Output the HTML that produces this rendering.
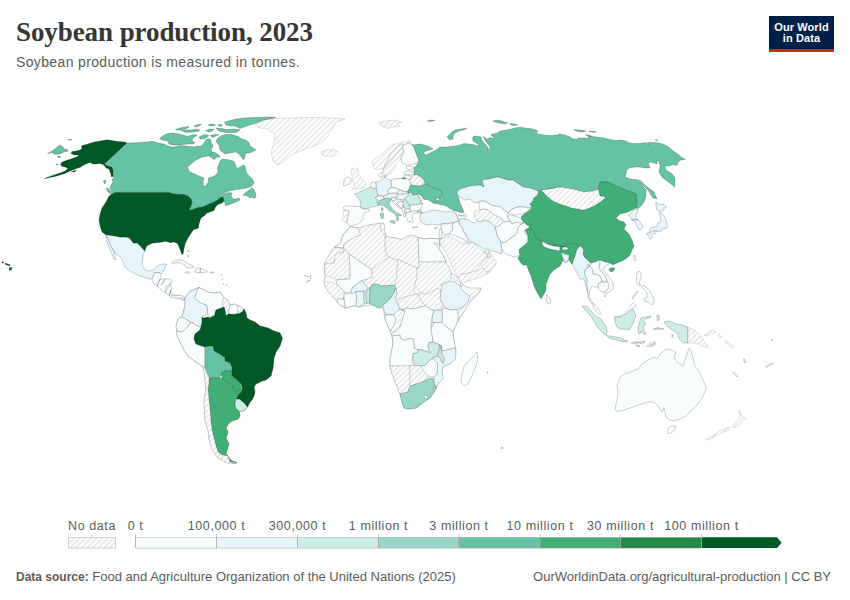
<!DOCTYPE html>
<html><head><meta charset="utf-8">
<style>
*{margin:0;padding:0;box-sizing:border-box}
html,body{width:850px;height:600px;background:#fff;overflow:hidden}
body{position:relative;font-family:"Liberation Sans",sans-serif;color:#5b5b5b}
.title{position:absolute;left:16px;top:17px;font-family:"Liberation Serif",serif;font-weight:bold;font-size:27px;color:#363636;white-space:nowrap;letter-spacing:-0.08px}
.sub{position:absolute;left:16px;top:53.5px;font-size:14px;letter-spacing:0.36px;color:#5b5b5b;white-space:nowrap}
.logo{position:absolute;left:769px;top:16px;width:65px;height:36px;background:#002147;border-bottom:3px solid #ce261e;color:#fff;font-weight:bold;font-size:11px;line-height:11.8px;text-align:center;padding-top:5.5px;letter-spacing:0.1px}
.foot{position:absolute;top:569px;font-size:13px;color:#5b5b5b;white-space:nowrap}
.foot b{color:#5b5b5b;font-size:12px}
svg{position:absolute;left:0;top:0}
.lg{font-size:12.5px;fill:#5b5b5b;letter-spacing:0.6px}
</style></head><body>
<div class="title">Soybean production, 2023</div>
<div class="sub">Soybean production is measured in tonnes.</div>
<div class="logo">Our World<br>in Data</div>
<svg width="850" height="600" viewBox="0 0 850 600"><defs><pattern id="hatch" patternUnits="userSpaceOnUse" width="4" height="4" patternTransform="rotate(45)"><rect width="4" height="4" fill="#fff"/><rect width="1.8" height="4" fill="#e9e9e9"/></pattern></defs><g stroke="#000" stroke-opacity="0.27" stroke-width="0.7" stroke-linejoin="round"><path fill="#005824" d="M82 145.5L88 144L94 142L100 141L107 139.8L112 140.5L118 141.5L125 142L127 143L104.5 164L108 166L112 167L113 170L113 175L114 176L111.5 177L110.5 173L109 169L106 168L104 165L100 163.5L96 164L93 164L90 162.5L86 164L82 166L81 167L78 168L74 169.5L70 171L65 173.5L60 175L55 176.5L50 177.5L44.5 178.7L46 177.8L54 175L60 173L65 171L68 168.5L65 167L62 166.5L60.5 164.5L62 162L66 160.5L71 159L75 157.5L78 156L79 155L74 155L71 153.5L72 151.5L76 151L80 150L82 148.5L81.5 146Z"/><path fill="#005824" d="M71 172L76 170L75 172Z"/><path fill="#005824" d="M56 164L58 164.2L57 165Z"/><path fill="#66c2a4" d="M47.5 153.5L52 151L56 148L60 145L63 147L64 149L67.5 149.5L68 151L64 152L62 153L60 154L55 154.5L52 152.5Z"/><path fill="#66c2a4" d="M68 139.5L72 139.2L70 140.5Z"/><path fill="#005824" d="M57 156.5L61 156.8L59 157.5Z"/><path fill="#66c2a4" d="M127 143L134 142.8L140 142.5L146 142L150 141.5L153 141.5L158 143L164 144L168 146L172 147L177 146.5L180 145.5L185 146L190 146.5L194 147L198 146L200 146.5L203 145L204.5 142L206 139.5L209 138.5L211 140L211 143L213 145L212.5 147.5L211 149.5L213 153L208 156L202 157L196 160L191 164L187.5 167L188.5 170L190 172L195 174L200 176.5L204 178L203 181L203.5 185L205 186.5L207 184L208.5 182L208 180L209 177.5L212 177L216 175L218 172L217.5 168L219 164L220 161L222 159L226 159.5L230 160L234 161.5L235.5 165L237 168.5L240 167L243 165L245 166L246 172L249 176L252 179L254 182L253 185L250 187L246 188L240 189L234 190L229 191L225 193L220 196L218 198L221 196.2L225 194L229 192.5L232 193L231 196L233 199L236 199L239 198L240 200L236 202L232 203.5L228 205L225.5 206L225 203L224 201L223 197L221 197.5L219 199L216 201L212 203L208 204.5L203 207L198 207.5L193 209.5L188.5 210.5L191 206L192 202L191 199L188 196L184 194.5L180 194.5L174 194L168 192.4L115 192.4L114 193L112 191L110 188L111 185L113 182L112 180L113.5 178L114 176L113 175L113 170L112 167L108 166L104.5 164Z"/><path fill="#66c2a4" d="M243 195.5L245 193L248 191L250 189.5L252 187.5L254 190L255.5 193L256 197L254 198.5L252 197L250 198L248 196.5L246 195.5Z"/><path fill="#66c2a4" d="M106 188L109 189L113 193L112 195L108 192Z"/><path fill="#66c2a4" d="M104 180L106 181L105 184L103.5 182Z"/><path fill="#66c2a4" d="M159.5 138.5L164 135L168 133.5L173 133L179 134L188 136.5L190 135.5L195 134.5L197 135.5L193 138L192 141L195 142.5L193 144L188 144L183 144.5L178 145L173 145L169 144L168 141L162 140Z"/><path fill="#66c2a4" d="M175.5 129.5L180 128L185 127L189 126.5L188 128L185 129L181 130L177 130Z"/><path fill="#66c2a4" d="M181 130.5L186 130L192 130L196 129L200 130L198 131.5L192 132L186 132.5Z"/><path fill="#66c2a4" d="M194 126L198 124.5L201.5 124.5L199 126L196 127Z"/><path fill="#66c2a4" d="M205.5 130.5L210 129L214 129.5L212 131.5L208 132Z"/><path fill="#66c2a4" d="M208.5 124.5L213 124L215.5 125L212 126L209 125.5Z"/><path fill="#66c2a4" d="M218 124.5L222 124.5L221.5 126.5L219 126Z"/><path fill="#66c2a4" d="M216 128L222 128.5L226 129.5L235 129L240 130L236 132.5L226 132.5L220 131.5L218 130Z"/><path fill="#66c2a4" d="M199 137L202 135.5L206 134.5L209 135.5L206 138L203 139L200 139Z"/><path fill="#66c2a4" d="M210 135.5L215 134.5L219 134.5L216 136L212 137.5Z"/><path fill="#66c2a4" d="M216 141L218 138L222 135.5L226 134.5L232 134.5L238 136.5L242 139L246 140L249 143L250 146L253 148L256 150L252 152L249 153L246 153L245 156L244 160L242 158L239 154L236 152L230 153L225 154L221 151L219 148L220 147L218 144Z"/><path fill="#66c2a4" d="M209 156L214 152L219 155L220 157L215 157.5L211 157.5Z"/><path fill="#66c2a4" d="M212 158.5L216 158L214 159.5Z"/><path fill="#66c2a4" d="M224.5 122L230 120.5L236 119L244 118L252 117.6L262 117.2L270 117L276 117.5L268 119.5L262 121L256 123L250 125L244 127L240 128.5L235 126L230 126L226 125Z"/><path fill="url(#hatch)" stroke-opacity="0.17" d="M255 125L264 120L276 118.4L300 117.6L320 117.6L334 118L345 119L336 122L333 128L328 136L322 142L316 145L306 149L298 152L290 156L282 163L278 165L273 161L271 153L273 146L275 140L274 134L268 129L260 128Z"/><path fill="url(#hatch)" stroke-opacity="0.17" d="M321 152L326 150L334 149.6L339 152L336 155.6L328 156.4L322 155Z"/><path fill="#005824" d="M115 192.4L168 192.4L174 194L180 194.5L184 194.5L188 196L191 199L192 202L191 206L188.5 210.5L193 209.5L198 207.5L203 207L208 204.5L212 203L216 201L219 199L221 197.5L223 197L224 201L222 203L218 204.5L215.5 207L214 210.5L210 212L207 213L204 216L201 218L200 221L199 224L198.5 228L193.3 230L190.5 234L188 238L185.3 243.3L184 248.7L183.3 253.3L182 254.7L180.7 251.3L178.7 246L177.3 243.3L173.3 242L170.7 242.7L165.3 241.3L162.7 242L156 242.7L152 243.3L146.7 246L144.7 251.3L141.3 247.3L137.3 243.3L133.3 243.3L129.3 238L125.3 237.3L120 237.3L114 236L106 235L102 232L100 226L99 220L100 214L102 208L106 202L109 196L112 194Z"/><path fill="#e5f5f9" d="M106 235L114 236L120 237.3L125.3 237.3L129.3 238L133.3 243.3L137.3 243.3L141.3 247.3L144.7 251.3L142.7 256.7L142 263.3L144 268.7L148 271.3L153.3 270L157.3 266L161.3 264L166.7 264L164 270L161.3 274L160 272.7L154.7 272.7L152.7 277.3L152 279.3L146.7 278L140 276L133.3 272.7L128 270L124 266L122.7 260.7L120 256.7L116 254L112 248L109 243L107 238Z"/><path fill="#e5f5f9" d="M106 236L108 238L110 244L114 252L116 260L114 259L110 250L107 242Z"/><path fill="#f7fcfd" d="M154.7 272.7L160 272.7L161.3 276L160 279.3L165.3 278.7L170.7 279.3L172.7 281.3L170.7 283.3L171.3 288.7L170 291.3L172 294L174.7 295.3L178.7 295.3L182.7 296L185.3 298L184 300.7L180 298.7L176 298L173.3 297.3L169.3 295.3L165.3 292.7L161.3 290L157.3 286L153.3 283.3L152 280.7L152.7 277.3Z"/><path fill="none" d="M160 279.3L158 283L157.3 286Z"/><path fill="none" d="M165.3 278.7L163 283L161.3 285Z"/><path fill="none" d="M170.7 283.3L166 287L165.3 292.7Z"/><path fill="none" d="M171 290L170 293L169.3 295.3Z"/><path fill="#f7fcfd" d="M171.2 262.9L175 260.4L179.2 259.6L184.2 261.2L188.3 263.8L193.3 266.2L194.2 267.5L189.2 267.9L186.7 267.5L185 265L180.8 263.3L176.7 262.5L172.5 263.8Z"/><path fill="#f7fcfd" d="M196.7 267.9L200.8 268.3L205 270L207.5 271.7L204.2 272.5L200 272.5L194.2 272.1L195.8 270Z"/><path fill="none" d="M200.5 268.3L200 272.5Z"/><path fill="#f7fcfd" d="M185 272.1L188.3 271.7L189.6 272.9L186.7 273.3Z"/><path fill="#f7fcfd" d="M210 272.1L214.2 272.1L213.3 272.9L210 272.9Z"/><path fill="#f7fcfd" d="M187.5 255L188.6 255.5L188.8 257.5L187.8 257Z"/><path fill="#f7fcfd" d="M187 250.5L189.5 250.8L189 252Z"/><path fill="#f7fcfd" d="M221.3 274.6L222.1 275L221.7 275.6Z"/><path fill="#f7fcfd" d="M222.1 278.8L222.9 279.2L222.5 279.8Z"/><path fill="#f7fcfd" d="M222.9 283.8L223.7 284.2L223.3 284.8Z"/><path fill="#f7fcfd" d="M226.3 284.6L227.1 285L226.7 285.6Z"/><path fill="#005824" d="M2 261.8L3.6 261.8L3.6 262.9L2 263Z"/><path fill="#005824" d="M5 263L7 263.8L10 264.8L10 266L7 265L5 264.2Z"/><path fill="#005824" d="M9.5 267.3L11.6 267.5L12 269L10 270.6L9 269.5Z"/><path fill="#f7fcfd" d="M185 298.5L189 292L193 290L199 287.5L202 289L208 292L214 293L220 292L224 298L228 300L230 305L235 304L238 306L242 307L244 309L246 313L247 318L250 320L255 322L260 326L268 328L274 331L280 333L282.4 338L280 346L276 352L274 358L273 368L271 376L266 380L262 381L256 384L254 387L255 392L254 396L252 400L250 402L248 407L244 411L239 411L240 416L238 419L232 421L229 423L226 428L228 432L226 438L229 444L227 450L226 454L228 456L232 461L237 462.4L236 463.6L228 463L218 458L212 450L209 440L208 430L205 420L204 400L206 390L205 380L204 370L202 366L196 362L188 356L184 350L180 342L177 336L177 331L176 326L178 319L182 317L184 310L185 304Z"/><path fill="#e5f5f9" d="M185 298.5L189 292L193 290L199 287.5L196 293L195 298L199 302L204 304L207 305L207.5 310L208 314L202 317L202 322L201 327L197 326L193 323L189 321L182 317L184 310L185 304Z"/><path fill="#f7fcfd" d="M199 287.5L202 289L208 292L214 293L220 292L224 298L222 304L224 307L216 310L215 313L210 318L208 314L207.5 310L207 305L204 304L199 302L195 298L196 293Z"/><path fill="url(#hatch)" stroke-opacity="0.17" d="M224 298L228 300L230 305L229 310L228 314L226 316L225 310L224 307L222 304Z"/><path fill="#f7fcfd" d="M230 305L235 304L238 306L238 313L234 314.5L229 314L229 310Z"/><path fill="url(#hatch)" stroke-opacity="0.17" d="M238 306L242 307L244 309L242 312L239 313.5L238 313Z"/><path fill="#f7fcfd" d="M182 317L189 321L190 323L187 328L182 332L177 331L176 326L178 319Z"/><path fill="#f7fcfd" d="M182 332L187 328L190 323L193 323L197 326L201 327L200 330L195 334L194 339L196 344L202 346L205 347L205 349L205 358L205 368L202 366L196 362L188 356L184 350L180 342L177 336L177 331Z"/><path fill="#005824" d="M202 317L203 318L208 317L210 318L215 315L215 313L216 310L224 307L225 310L226 316L228 314L229 314L234 314.5L239 313.5L242 312L244 309L246 313L247 318L250 320L255 322L260 326L268 328L274 331L280 333L282.4 338L280 346L276 352L274 358L273 368L271 376L266 380L262 381L256 384L254 387L255 392L254 396L252 400L250 402L247.5 407L244 403L239 399L236.5 399L238 395L241 392L242.5 389L241 384L239 382L237 380L232 376L231.5 371L232 368L230 363L225 361L225 358L221 355L214 351L213 346L210 346L205 347L202 346L196 344L194 339L195 334L200 330L201 327L202 322Z"/><path fill="#66c2a4" d="M205 349L205 347L210 346L213 346L214 351L221 355L225 358L225 361L230 363L232 368L231.5 371L225 371L222 372L221.5 375L219 378L213 377.5L211 379L209 378L205 368Z"/><path fill="#41ae76" d="M222 372L225 371L231.5 371L232 376L237 380L240 383L241 388L239 391L235 392L233 389L233 386L229 383L225 381L222 378L221.5 375Z"/><path fill="#41ae76" d="M209 378L211 379L213 377.5L219 378L222 378L225 381L229 383L233 386L233 389L235 392L239 391L241 388L242.5 389L241 392L238 395L236.5 399L235.6 400L235 403L235.6 408L239 411L240 416L238 419L232 421L229 423L226 428L228 432L226 438L229 444L227 450L226 454L228 456L222 455L218 452L216 446L214 438L212 430L211 422L210 410L209 400L208 390L209 382Z"/><path fill="#41ae76" d="M228 457L232 461L237 462.4L230 462Z"/><path fill="#ccece6" d="M236 400L239 399L244 403L247 407L244 411L239 411L235.6 408L235 403Z"/><path fill="url(#hatch)" stroke-opacity="0.17" d="M202 366L205 368L209 378L209 382L208 390L209 400L210 410L211 422L212 430L214 438L216 446L218 452L222 455L228 456L228 457L230 462L236 463.6L228 463L218 458L212 450L209 440L208 430L205 420L204 400L206 390L205 380L204 370Z"/><path fill="#f7fcfd" d="M170 295L175 296L180 295L183 298L185 298.5L184 300L180 298L175 298L170 297Z"/><path fill="url(#hatch)" stroke-opacity="0.17" d="M372.5 161L374 159L378 157L382 154L386 150L390 146L394 144L398 143.5L402 142.5L406 141.5L410 141L412 142.5L409 143L404 145L402 147L404 151L402 155L401 158.5L400 160L397 163L395.5 166L394 170L391 173L388 175L386 176L384 174L383 170L382 168L380 169L377 170L374.5 169L373 166L372 163Z"/><path fill="none" d="M404 145L402 144L398 146L394 150L390 155L388 160L385 165L383 170Z"/><path fill="#f7fcfd" d="M404 145L409 143L412 144.5L414 147L416 153L418 158L419 161L416 163L412 164.5L407 165L402 163L401 159L402 155L404 151L402 147Z"/><path fill="#f7fcfd" d="M406 166.5L412 166.5L414 168L410 170L407 169.5Z"/><path fill="#f7fcfd" d="M404 172L407 171L410 171L414 172L414 174.5L409 175L405 174.5Z"/><path fill="#f7fcfd" d="M404 175L410 175.5L412 178L410 179.5L406 179L404 177.5Z"/><path fill="#66c2a4" d="M401.5 178L405 177.5L405.5 179L402 179Z"/><path fill="url(#hatch)" stroke-opacity="0.17" d="M412 175.5L417 174.5L421 177L424 180L423.5 185L419 186L414 185.5L411 185L410 182L410 179.5L412 178Z"/><path fill="#f7fcfd" d="M391 180L396 178.5L401 178.5L402 179L406 179L410 179.5L410 182L411 185L410 188L408 190.5L407.4 191.4L403.2 191.4L399.6 189.9L396.1 188.2L392.6 187.8L391.2 187.1L391 183Z"/><path fill="#e5f5f9" d="M376 182L380 181L383 178.5L385 177L387.5 179.5L391 180L391 183L391.2 187.1L389.8 188.5L387.6 190.6L389.1 193.5L386.9 194.9L383.4 196.3L379.2 195.9L377.5 194.5L376.4 192.1L376 188L375.5 185Z"/><path fill="#f7fcfd" d="M380 173L382 172L383 174.5L382 177L380 177.5L378.5 175Z"/><path fill="#f7fcfd" d="M384 176L386 175.5L386 177L384 177.3Z"/><path fill="#f7fcfd" d="M372 182L375.5 182L376 185L376 188L374 189L371 187L370 185.5Z"/><path fill="url(#hatch)" stroke-opacity="0.17" d="M351.7 169.2L354.5 168L357.3 168.3L358.7 171.1L357.7 173.4L359.6 175.7L361.9 178.5L364.3 180.9L366.1 183.7L365.7 186L363.3 187.9L359.6 188.8L355.9 188.8L351.7 189.7L353.1 187.4L354.9 186L353.5 184.1L353.1 181.8L352.1 179L352.6 176.7L351.2 174.3L351.2 171.5Z"/><path fill="#f7fcfd" d="M344.2 179.9L346.5 177.6L348.4 177.1L350.7 178.5L351.2 180.9L350.3 182.7L349.3 184.1L345.6 185.5L343.3 185.5L343.7 183.2Z"/><path fill="#ccece6" d="M354 194L358 193L360 191.5L364 190L367 188L370 187.5L371 187L374 189L376 188L377 191L377.5 194.5L378 196.5L375.5 197.5L377 200L377 201.5L378 203L378.5 203.5L378 205.5L375 206.5L372 207L369 208L365 209L362 208L360 206.5L360.5 202L359 199L356.5 196Z"/><path fill="#ccece6" d="M381.5 208L382.5 207.3L383 209L382 210Z"/><path fill="#f7fcfd" d="M375.6 197L379.2 195.9L383.4 196.3L384.1 198.4L381.3 200.2L378.5 200.5L376.4 199.1Z"/><path fill="#e5f5f9" d="M383.4 196.3L386.9 194.9L389.1 193.5L393.3 192.8L396.8 193.1L397.2 195.6L395.4 197.7L391.2 198.1L387.6 198.4L384.1 198.4Z"/><path fill="#f7fcfd" d="M387.6 190.6L389.8 188.5L392.6 187.8L396.1 188.2L399.6 189.9L398.2 192.1L396.8 193.1L393.3 192.8L389.1 193.5Z"/><path fill="#e5f5f9" d="M399.6 189.9L403.2 191.4L407.4 191.4L408.1 192.8L404.6 193.8L401.1 194.2L398.2 194.2L397.2 192.8Z"/><path fill="#e5f5f9" d="M397.2 195.6L398.2 194.2L401.1 194.2L404.6 193.8L408.1 192.8L408.5 194.9L406.7 197L404.6 199.1L401.1 199.8L398.2 199.5L396.5 198.1Z"/><path fill="#f7fcfd" d="M391.2 198.1L395.4 197.7L396.5 198.1L395.4 200.2L392.6 200.9L391.2 199.8Z"/><path fill="#f7fcfd" d="M392.6 200.9L395.4 200.2L398.2 199.5L401.1 199.8L403.2 201.2L401.1 201.9L398.2 201.9L396.8 203.3L398.9 206.2L401.8 208.3L401.1 209L398.2 206.9L395.4 204.8L393.3 202.6Z"/><path fill="#f7fcfd" d="M398.2 201.9L401.1 201.9L403.2 201.2L403.2 204.8L402.5 207.6L401.8 208.3L398.9 206.2L396.8 203.3Z"/><path fill="#ccece6" d="M403.2 201.2L404.6 199.1L406.7 201.2L408.1 203.3L409.5 205.5L410.2 207.6L408.8 209L406.7 209.3L404.6 208.3L403.2 206.2L403.2 204.8Z"/><path fill="#f7fcfd" d="M401.8 208.3L402.5 207.6L403.2 206.2L404.6 208.3L406.7 209.3L408.8 209L410.2 209.3L410.9 211.8L406.7 212.5L405.3 213.2L405.3 216L403.9 216.8L403.2 213.2L402.5 209.7Z"/><path fill="none" d="M404.6 209.7L405.3 213.2Z"/><path fill="#ccece6" d="M408.1 192.8L410.9 192.1L413.3 195.3L417.3 194.3L418.7 196L419.7 197.7L420.3 199.7L421 201.3L421.7 202.7L422.6 203.5L420.8 204L419.4 204.1L415.9 204.8L412.3 205.1L409.5 205.5L408.1 203.3L406.7 201.2L404.6 199.1L406.7 197L408.5 194.9Z"/><path fill="#f7fcfd" d="M417.3 194L418.7 194L421 195.3L422.7 197.3L423.7 198.7L422.3 199L421.7 200.3L421 201.3L420.3 199.7L419.7 197.7L418.7 196Z"/><path fill="#f7fcfd" d="M409.5 205.5L412.3 205.1L415.9 204.8L419.4 204.1L420.8 204L422.6 203.5L421.5 207.6L420.8 209.7L418 210.4L415.2 211.1L412.3 211.1L410.9 211.8L410.2 209.3L410.2 207.6Z"/><path fill="#f7fcfd" d="M405.3 216L406.7 212.5L410.9 211.8L412.3 211.1L415.2 211.1L418.7 211.8L418 213.2L413.8 213.2L412.3 214.6L413 217.5L411.6 218.2L413.8 221.7L412.3 223.1L410.2 221L409.5 223.1L408.1 221.7L407.4 218.9L406.3 217.5Z"/><path fill="#f7fcfd" d="M412 227L417 226.5L418 227.5L413 228Z"/><path fill="#e5f5f9" d="M419.4 212.5L422.2 211.8L423.6 213.2L420.8 213.9Z"/><path fill="#99d8c9" d="M377.8 202L380.6 200.5L384.1 198.8L387.6 198.4L390.5 199.1L391.2 199.8L389.8 202L389 204L391.2 207.6L394 210.4L396.8 212.5L399.6 213.9L401.8 215.3L400.3 216L398.2 215.3L398.2 217.5L398.9 219.6L397.5 221L396.1 220.3L396.8 217.5L395.4 214.6L392.6 212.5L389 210.4L386.2 207.6L383.4 205.5L380.6 205.1L378.5 205.5L377.8 204Z"/><path fill="#99d8c9" d="M389.8 221L393.3 220.6L395.4 221.7L394.7 223.8L391.2 222.4Z"/><path fill="#99d8c9" d="M380.6 213.2L383.1 212.9L383.8 216L383.1 218.5L381.3 218.5L380.6 216Z"/><path fill="#ccece6" d="M381.3 208.3L382.7 207.9L383.1 210.8L381.6 211.1Z"/><path fill="#f7fcfd" d="M344 209.8L343.6 209.3L343.1 207L346.4 205.8L352 206L359 206.5L359.5 207L363.7 208.9L367 209.3L369.3 209.8L368.8 211.2L366 212.6L364.2 214L363.2 215.9L362.8 218.7L361.8 220.6L359 223.8L356.7 224.3L353 225.2L350.6 226.6L349.7 225.7L347.3 222.9L346.9 222.4L347.8 217.8L348.3 214L349.2 211.2Z"/><path fill="url(#hatch)" stroke-opacity="0.17" d="M344 209.8L349.2 211.2L348.3 214L347.8 217.8L346.9 222.4L342.7 221.5L342.2 218.7L343.1 215L343.6 211.7Z"/><path fill="#66c2a4" d="M409 187L411 185L414 185.5L419 186L423.5 185L425 184L432 187L440 190L443 194L440 198L435 199L438 201L433 203L430 201L427 199.5L425 199.7L423.7 198.7L422.7 197.3L421 195.3L418.7 194L417.3 194L413.3 195L410.9 192.1L408.1 192.8L407.4 191.4L408 190.5L410 188Z"/><path fill="#e5f5f9" d="M420 215L422 213L426 212L430 210.5L435 210L440 211L445 212L449 211.5L453 212L456 214L458 218L458.5 221L455 222.5L451 223L447 224L443 223.5L440 225L436 225L432 224L428 225L424 224L421 222L420 219Z"/><path fill="#e5f5f9" d="M418 211L421 210.5L421.5 212.5L418.5 212.5Z"/><path fill="#f7fcfd" d="M434 228L437 227L436 229Z"/><path fill="#f7fcfd" d="M453 210L457 211L461 212.5L465 214L467 216L465 219L461 219L458.5 220L458 218L456 214Z"/><path fill="none" d="M458 215L462 216L465 216Z"/><path fill="url(#hatch)" stroke-opacity="0.17" d="M378.2 122.7L383.2 121.5L389 120.6L395.5 120.2L401.7 122.3L398 123.1L399.7 126.4L394.7 126.8L388.1 128.5L383.2 126.8Z"/><path fill="#f7fcfd" d="M350 226.5L358 228L365 226L372 224.5L380 223.5L383 223L385 226L384 230L386 235L388 237L395.5 238L400 239.5L403 239L406 237L408.7 236L414 235.5L418 237.5L425 239L430 238.5L436 238.5L439 239L440 246L439 249L443 255L446 262L449 268L451 273L455 275L459 279L461 282L463 285L466 287L470 288L476 288L481 288L480 291L476 296L470 302L465 310L462 314L458 321L455 327L453 332L454 341L455 348L456 350L455 358L452 362L444 366L442 370L442 378L438 384L436 388L434 392L430 398L424 402L416 408L408 409L404 408L402 402L400 394L396 384L392 374L390 366L390 358L392 350L393 342L392 336L390 332L388 326L385 320L384 314L383 308L378 306L370 305L360 307L352 306L346 308L345 308L340 305L337 302L336 300L330 294L326 288L324 282L325 276L324 270L324.5 264.5L326 260L330 254L332 250L334 247.5L338 245L341 242L341.5 239L343 235L346 231L349 228.5Z"/><path fill="#f7fcfd" d="M350 226.5L353 227L358 228L359.5 231L360.5 235L356 236.5L352 239L348 241L345 243L343.5 245L343.5 248L339 247.5L334 247.5L338 245L341 242L341.5 239L343 235L346 231L349 228.5Z"/><path fill="url(#hatch)" stroke-opacity="0.17" d="M334 247.5L344 248.5L344 252L337 253L335 257L334 263L324.5 264.5L326 260L330 254L332 250Z"/><path fill="url(#hatch)" stroke-opacity="0.17" d="M324.5 264.5L334 263L335 257L337 253L344 252L344 248.5L349 254L350 265L350 279L340 279.5L336 280L331 277L326 276L325 271Z"/><path fill="url(#hatch)" stroke-opacity="0.17" d="M358 228L365 226L372 224.5L380 223.5L381 230L384 234L385.5 238L385 245L386 253L389 257L382 262L372 270L362 263L349 254L344 248.5L343.5 245L345 243L348 241L352 239L356 236.5L360.5 235L359.5 231Z"/><path fill="url(#hatch)" stroke-opacity="0.17" d="M380 223.5L383 223L385 226L384 230L386 235L385.5 238L384 234L381 230Z"/><path fill="url(#hatch)" stroke-opacity="0.17" d="M385.5 238L388 237L395.5 238L400 239.5L403 239L406 237L408.7 236L414 235.5L418 237.5L418.5 245L419 262L419 268L417 268L398 259.5L397 260L389 257L386 253L385 245Z"/><path fill="#f7fcfd" d="M418 237.5L425 239L430 238.5L436 238.5L439 239L440 246L438 244L434 242.5L439 249L443 255L446 262L419 262L418.5 245Z"/><path fill="#f7fcfd" d="M349 254L362 263L372 270L372 277L367 279.5L362 280.5L358 283L353 287L351 291L349 293L344 292L342 289L337 285L336 280L340 279.5L350 279L350 265Z"/><path fill="url(#hatch)" stroke-opacity="0.17" d="M372 270L382 262L389 257L397 260L398 265L397 270L397 275L396 280L394 285L388 285.5L382 286L376 284L372 284.5L370 288L367 287L364 283L362 280.5L367 279.5L372 277Z"/><path fill="url(#hatch)" stroke-opacity="0.17" d="M398 259.5L417 268L417 277L415 285L414 291L415 295L413 295L405 297L398 300L396 296L397 295L395 289L396 280L397 270Z"/><path fill="url(#hatch)" stroke-opacity="0.17" d="M419 262L446 262L449 268L451 273L451 278L449 281L445 283L441 291L438 288L433 291L427 294L420 293L415 285L417 277L417 268L419 268Z"/><path fill="url(#hatch)" stroke-opacity="0.17" d="M451 273L455 275L459 279L461 282L455 280L451 278Z"/><path fill="url(#hatch)" stroke-opacity="0.17" d="M415 294L420 293L427 294L433 291L438 288L441 291L440 299L443 304L442 309L434 310.5L430 309L425 306L420 299L419 295Z"/><path fill="url(#hatch)" stroke-opacity="0.17" d="M398 300L405 297L413 295L415 294L419 295L420 299L425 306L420 307L414 309L406 308L401 310L398 305Z"/><path fill="#e5f5f9" d="M442 284L445 283L449 281L455 282L458 284L462 289L464 292L470 296L468 302L463 307L457 309.5L451 310L445 308L443 304L440 299L441 291Z"/><path fill="#f7fcfd" d="M461 282L463 285L462 287L460 286Z"/><path fill="url(#hatch)" stroke-opacity="0.17" d="M470 296L476 290L481 288L480 291L476 296L470 302L465 310L462 314L458 321L458 315L458 312L463 307L468 302Z"/><path fill="url(#hatch)" stroke-opacity="0.17" d="M324 282L331 282L336 284L337 285L342 289L344 292L344 294L344 299L338 299L337 302L336 300L330 294L326 288Z"/><path fill="#f7fcfd" d="M338 299L344 299L345 305L345 308L340 305L337 302Z"/><path fill="#f7fcfd" d="M344 294L350 293.5L356 291.5L356.5 299L356 305L352 306L346 308L345 305L344 299Z"/><path fill="#e5f5f9" d="M351 291L353 287L358 283L362 280.5L364 283L367 287L368 289L365 291L360 291.2L356 291.5L352 294Z"/><path fill="#e5f5f9" d="M356 291.5L364 291.5L364 298L364.5 304L362 305L358 307L356 305L356.5 299Z"/><path fill="#e5f5f9" d="M364 291.5L366 293L366.5 303.5L364.5 304L364 298Z"/><path fill="#ccece6" d="M366 292L368 289L370 288L370 293L369.5 298L369.5 303.5L367 303.5L366 297Z"/><path fill="#99d8c9" d="M370 288L372 284.5L376 284L382 286L388 285.5L394 285L396 288L394 293L390 299L386 303L383 305L381 308L377 308L374 305L370 304L369.5 298L370 293Z"/><path fill="#e5f5f9" d="M396 288L397 295L395 297L396 301L399 307L400 315L392 314.5L385 314L384 309L383 305L386 303L390 299L394 293Z"/><path fill="#f7fcfd" d="M385 315L394 315L396 319L394 325L391 331L389 328L386 322Z"/><path fill="url(#hatch)" stroke-opacity="0.17" d="M394 315L398 310L401 310L405 310L403 318L400 327L395 332L391 331L394 325L396 319Z"/><path fill="#f7fcfd" d="M401 310L406 308L414 309L420 307L425 306L430 309L434 310.5L432 318L431 326L431 330L432 334L433 342.1L429.3 342.5L428.1 344L428.5 350L430.8 352.3L430 353L427.8 351.9L424 350.8L421 349.6L418 349.6L414.3 348.5L413.5 339.5L410.5 338.4L404.5 340.3L400 338L400 335L392 336L391 334L395 332L400 327L403 318L405 310Z"/><path fill="#e5f5f9" d="M434 310.5L442 310L442.5 315L442 322.5L433 322.5L432 318Z"/><path fill="#f7fcfd" d="M442 309L445 308L451 310L457 309.5L458 315L458 321L455 327L453 332L448 328L442 323L442.5 315Z"/><path fill="#f7fcfd" d="M433 322.5L442 322.5L448 328L453 332L454 341L455.5 347.8L452.5 348.5L447.3 350L442 350.8L440.9 345.5L439.8 344.8L437.5 344L433 342.1L432 334L431 330Z"/><path fill="#f7fcfd" d="M431.5 322.5L433.5 322.5L433 326L431 326Z"/><path fill="#f7fcfd" d="M392 336L400 335L400 338L404.5 340.3L410.5 338.4L413.5 339.5L414.3 348.5L418 349.6L417.3 353L413.1 353.4L412.8 357.5L413.1 362.8L415 365.4L410 366L390 366L390 358L392 350L393 342Z"/><path fill="#ccece6" d="M413.1 353.4L417.3 353L418 349.6L421 349.6L424 350.8L427.8 351.9L430 353L430.8 352.3L428.5 350L428.1 344L429.3 342.5L433 342.1L437.5 344L439.8 344.8L439 350L437.5 356L432.3 358.3L430 360.5L425.5 365L424 366.1L420.3 365.8L415 365.4L413.1 362.8L412.8 357.5Z"/><path fill="#ccece6" d="M439.8 344.8L440.9 345.5L441.3 350L442.4 355.3L444.3 357.5L444.3 361.3L442.8 363.5L441.3 361.3L440.5 358.3L438.3 356.8L437.5 356L439 350Z"/><path fill="#e5f5f9" d="M440.9 345.5L442 350.8L447.3 350L452.5 348.5L455.5 347.8L455.9 353.8L455.5 359L451 363.5L445 365.8L442.8 368L442 372.5L443.5 377L442 380L438 384L436 388L434 383L434.5 376.3L436.8 374L437.5 368.8L437.5 363.5L436 362L432.3 358.3L437.5 356L438.3 356.8L440.5 358.3L441.3 361.3L442.8 363.5L444.3 361.3L444.3 357.5L442.4 355.3L441.3 350Z"/><path fill="#f7fcfd" d="M420.3 365.8L424 366.1L425.5 365L430 360.5L432.3 358.3L436 362L437.5 363.5L437.5 368.8L436.8 374L434.5 376.3L431.5 377L427.8 375.5L425.5 373.3L422.5 369.5Z"/><path fill="url(#hatch)" stroke-opacity="0.17" d="M390 366L410 366L410 378L410 386L408 392L400 394L396 384L392 374Z"/><path fill="url(#hatch)" stroke-opacity="0.17" d="M410 366L415 365.4L420.3 365.8L422.5 369.5L425.5 373.3L427.8 375.5L428.5 378.5L422 382L416 384L410 386L410 378Z"/><path fill="#99d8c9" d="M400 394L408 392L410 386L416 384L422 382L428 379L433 378L434 383L436 388L434 392L430 398L424 402L416 408L408 409L404 408L402 402Z"/><path fill="#f7fcfd" d="M424 396L427 395L428 398L425 399Z"/><path fill="#f7fcfd" d="M433 387L435 386.5L435 388.5L433 388.5Z"/><path fill="#f7fcfd" d="M462 374L464 366L470 360L475 354L477 352L478 359L476 366L472 376L468 384L464 386L461 382Z"/><path fill="#f7fcfd" d="M304.8 275L306 275L306 275.8L304.8 275.8Z"/><path fill="#f7fcfd" d="M306.9 276.1L308.1 276.1L308.1 276.9L306.9 276.9Z"/><path fill="#f7fcfd" d="M309.8 275.9L311 275.9L311 276.7L309.8 276.7Z"/><path fill="#f7fcfd" d="M310 277.9L311.2 277.9L311.2 278.7L310 278.7Z"/><path fill="#f7fcfd" d="M308.6 280L309.8 280L309.8 280.8L308.6 280.8Z"/><path fill="#f7fcfd" d="M306.9 281.1L308.1 281.1L308.1 281.9L306.9 281.9Z"/><path fill="#f7fcfd" d="M501 447.5L503 447.3L503.2 448.5L501.3 448.8Z"/><path fill="#f7fcfd" d="M487 372L488 372L488 373L487 373Z"/><path fill="#66c2a4" d="M412 145L420 144L428 146L433 149L426 151L423 153L426 155L436 150L440 147L446 147L455 146L460 145L464 143.5L469 144L475 145L479 146L478 144L473 141L472.5 138L474 136L479 136.5L481 137L481.5 139.5L483 142L486 145L488 148L488 150L489.5 149L490 147L488 144L485.5 141L484 138L483 136.5L485 137.5L487 139L490 137.5L494 138.5L495 138L492 136L491 134.5L495 133.5L498 133L499 131.5L503 130.5L509 129.5L513 128.5L517 127.5L521 127.2L525 128L530 128.5L535 129.5L538 131L536 133L540 134.5L545 135L550 135.5L558 135L559 134L565 135L570 137L573 139L577 139.5L578 138L585 138L589 138.5L588 136.5L590 136L596 137L604 138L610 139.5L616 140.5L621 140L626 141L629 143L635 143.5L641 143.5L645 142.5L649 145L647 142.5L655 142.5L663 144L668 146.5L672 150L676 153L678 154L681 157L685.5 159.5L681 160L678 162L677 165.5L673 164.5L669 166L666 165.5L665 168L667 171L671 173L673 175L675 178L675 182L674.5 187L671 184L667 181L662 177L659 172L660 166L659 162L657 160L657 164L651 162L648 163L650 168L645 168L640 167L635 167L629 168L627 170L625 177L630 179L635 179.5L639 180L642 185L646 190L646 196L644 202L641 206L638 208.5L636 208L637 202L636 194L626 190L616 186L608 182L600 182L598 189L594 191L584 192L572 189L560 187L550 189L541 190L539 192L536 190L530 188L523 187L520 185L513 180L508 180L498 177L488 179L482 180L484 187L480 185L470 186L460 189L457 192L458 196L460 203L462 207L464 212L461 212.5L457 211L453 210L449 208L447 206.5L443 205L438 204L433 203L438 201L440 198L443 194L440 190L432 187L425 184L424 180L421 177L417 174.5L414 174.5L414 172L414 168L416 166L419 161L418 158L416 153L414 147L412 144.5Z"/><path fill="#66c2a4" d="M447 137L452 132L455 130L461 129L467 128L465 129.5L459 131L455 133L453 136L453 139L450 140Z"/><path fill="#66c2a4" d="M427 121L431 120L435 120.4L431 121.5Z"/><path fill="#66c2a4" d="M493 121L498 120L503 121.5L508 123L505 124L499 123L495 122Z"/><path fill="#66c2a4" d="M510 123.5L515 124L518 125L514 125.5L510.5 125Z"/><path fill="#66c2a4" d="M574 129.5L580 130L586 131L582 132L576 131Z"/><path fill="#66c2a4" d="M589 131L596 131.5L595 132.5L589.5 131.8Z"/><path fill="#66c2a4" d="M585.5 134.5L589 135L591 136L587 135.8Z"/><path fill="#66c2a4" d="M655 139.5L658 140L656.5 140.6Z"/><path fill="#66c2a4" d="M640 180L646 186L654 192L657 199L653 198L648 190L642 184Z"/><path fill="#e5f5f9" d="M460 189L470 186L480 185L484 187L482 180L488 179L498 177L508 180L513 180L520 185L523 187L530 188L536 190L539 192L537 196L534 198L533 201L530 204L532 207L530 208L524 207L518 207L512 209L508 213L504 210L500 206.5L493 206L488 203L484 201L480 201.5L479 202L475 203L472 201L470 199L465 200L462 198L458 196L457 192Z"/><path fill="#f7fcfd" d="M480 201.5L484 201L488 203L493 206L500 206.5L504 210L508 213L507 216L510 221L506 222L502 219L498 217L493 214L488 210L484 209L480 210L479 206L479 202Z"/><path fill="url(#hatch)" stroke-opacity="0.17" d="M475 211L480 210L484 209L488 210L493 214L498 217L502 219L503 222L499 226L495 227L490 222L485 220L481 222L477 221L475 218L474 214Z"/><path fill="#f7fcfd" d="M508 213L512 209L518 207L524 207L530 208L527 212L521 214L516 215L512 215Z"/><path fill="#f7fcfd" d="M507 216L512 215L518 217L522 220L524 222L520 223L516 222L512 224L510 221Z"/><path fill="#f7fcfd" d="M495 227L499 226L503 222L506 222L510 221L512 224L516 222L520 223L524 223L520 225L518 228L517 233L514 236L511 238L508 240L506 242L501 243L500 240L497 236L496 231Z"/><path fill="#f7fcfd" d="M524 223L527 225L531 227L525 230L524 232L527 236L528 240L526 244L521 248L519 250L520 255L518 256L514 257L506 254L502 250L501 246L501 243L506 242L508 240L511 238L514 236L517 233L518 228L520 225Z"/><path fill="#e5f5f9" d="M458.5 221L461 219L465 219L469 220L471 222L475 223L477 221L481 222L485 220L490 222L495 227L496 231L497 236L500 240L501 243L501 246L502 250L502 254L496 252L489 250L482 248L476 244L470 241L467 238L466 235L463 231L462 227L459 224Z"/><path fill="#f7fcfd" d="M453 223L458.5 221L459 224L462 227L463 231L466 235L468 239L467 242L463 239L458 237L453 235L449 234L453 229L452 225Z"/><path fill="#f7fcfd" d="M441 224L447 224L451 223L453 223L452 225L453 229L449 234L445 235L442 232L441 228Z"/><path fill="#f7fcfd" d="M439.5 229L441 228L442 232L442 236L440 239L439 236Z"/><path fill="url(#hatch)" stroke-opacity="0.17" d="M442 232L445 235L449 234L448 236L444 238L440 239L442 236Z"/><path fill="#f7fcfd" d="M467 242L469 241.5L470 243.5L468 244Z"/><path fill="url(#hatch)" stroke-opacity="0.17" d="M440 239L444 238L448 236L455 239L462 243L467 243.5L468 244L472 242L476 245L480 249L486 252.5L488 254L487 258L483 261L480 265L478 270L472 272L466 274L461 274L458 277L455 272L452 267L450 261L447 255L444 250L440.5 244.5Z"/><path fill="#f7fcfd" d="M484 251L486 251L486 253.5L484 253Z"/><path fill="#f7fcfd" d="M488 254L489 251L490 253L490 257L487 258Z"/><path fill="url(#hatch)" stroke-opacity="0.17" d="M490 253L492 255L494 259L497 262L494 267L490 272L486 272L483 268L480 265L483 261L487 258L490 257Z"/><path fill="url(#hatch)" stroke-opacity="0.17" d="M458 277L461 274L466 274L472 272L478 270L483 268L486 272L490 272L483 276L478 278L472 280L465 282L461 284L460 281Z"/><path fill="#41ae76" d="M525 230L530 227L534 232L536 238L542 241L548 244L555 245L560 246L565 246L568.2 243.8L572.4 243.2L576.5 243.8L579.4 246.2L577 249.7L575.9 252.6L574.7 257.4L573.5 259.7L573 262L572.4 264.4L570 262L568.8 258.5L567.6 261.5L565.3 262.6L563 260L560 266L554 270L550 274L548 279L546 284L546 290L544 294L541 299L538 294L534 286L531 276L528 269L527 265L523 265L520 262L518 258L520 255L519 250L521 248L526 244L528 242L528 236L526 232Z"/><path fill="#f7fcfd" d="M542 241L550 245L553.5 245.9L560 246.8L559.7 250.9L555.9 250.3L550 249.1L544 247L542 244Z"/><path fill="#f7fcfd" d="M561.8 247.9L564.7 246.8L568.2 247.9L567.6 249.7L562.9 250Z"/><path fill="#e5f5f9" d="M561.2 252L564 253.8L569.4 255L568.8 258.5L567.6 261.5L565.3 262.6L563.5 259.7L561.8 255.6Z"/><path fill="#f7fcfd" d="M547 295L550 298L551 303L548 304L546 300Z"/><path fill="#41ae76" d="M539 192L541 190L550 189L560 187L560 204L572 208L584 210L594 206L600 202L606 197L600 196L598 189L600 182L608 182L616 186L626 190L636 194L637 202L636 208L628 212L620 214L616 218L620 221L624 222L626 225L624 229L629 234L632 240L634 246L632 250L630 255L627 258L622 261L617 263L613 265L610 263L605 262L600 260L595 262L592.4 263.8L590 262.6L587 259.7L584.7 257.4L583 254.4L583.5 250.3L581.8 246.8L579.4 246.2L576.5 243.8L572.4 243.2L568.2 243.8L565 246L560 246L555 245L548 244L542 241L536 238L534 232L530 227L531 227L527 225L524 222L522 220L521 217L524 214L530 210L532 207L530 204L533 201L534 198L537 196Z"/><path fill="#41ae76" d="M609 269L612 267.5L615 268.5L613 271.5L610 271.5Z"/><path fill="url(#hatch)" stroke-opacity="0.17" d="M541 190L550 189L560 187L572 189L584 192L594 191L598 189L600 196L606 197L600 202L594 206L584 210L572 208L560 204L553 201L548 197Z"/><path fill="#f7fcfd" d="M634 255L636 257L635.5 261L633.5 259Z"/><path fill="#e5f5f9" d="M628.3 215.4L631.7 212.5L633.3 210L636.7 208.8L638.5 208.5L637.5 211.7L635.8 215L636.7 218.3L637.5 219.6L640.8 222.5L643.3 226.7L641.7 229.2L639.2 230L637.5 227.5L635.8 223.3L634.2 220.8L631.7 220L630.8 217.5Z"/><path fill="none" d="M631.7 220L634 219L637.5 219.6Z"/><path fill="#e5f5f9" d="M655.8 202.1L659.2 204.2L664.2 204.6L666.7 207.1L664.2 208.3L663.3 210.8L660 211.3L656.7 209.6L656.3 206.7Z"/><path fill="#e5f5f9" d="M659.2 212.1L661.7 212.9L664.2 215.8L665.8 219.2L666.7 222.5L667.9 226.7L666.7 228.3L664.2 228.3L660 231.7L656.7 230.8L653.3 230L650.8 231.7L649.2 233.3L650 228.3L652.5 227.1L656.7 226.7L657.5 223.3L660 222.5L660.8 219.2L660 215Z"/><path fill="#e5f5f9" d="M646.7 233.3L650 232.5L652.5 235L651.7 238.3L650 238.8L648.3 235.8Z"/><path fill="#e5f5f9" d="M652.5 231.7L656.7 230.8L655.8 233.3L653.3 233.8Z"/><path fill="#e5f5f9" d="M579.4 246.2L581.8 246.8L583.5 250.3L583 254.4L584.7 257.4L587 259.7L590 262.6L592.4 263.8L590 266.2L587.6 269.1L588 264L590 266L585 270L585 275L587 279L587 285L588 293L586 287L585 282L584 279L580 279L578 275L575 269L572.4 264.4L573 262L573.5 259.7L574.7 257.4L575.9 252.6L577 249.7Z"/><path fill="#f7fcfd" d="M585 270L590 266L593 270L593 274L596 274L600 276L602 281L598 284L598.5 288L597 288L593 286L591 287L590 291L589 295L590 299L593 303L595 305L593 305L590 301L588 297L588 293L587 285L587 279L585 275Z"/><path fill="#f7fcfd" d="M591 263L595 262L600 260L600 264L599 268L602 272L605 275L607 280L605 282L602 281L600 276L596 274L593 274L593 270L590 266Z"/><path fill="#f7fcfd" d="M600 264L600 260L605 262L610 263L610 263.5L605 266L603 270L606 273L610 278L613 283L613.5 288L611 291L607 293L605 297L604 295L605 292L608 289L608 284L607 280L605 275L602 272L599 268Z"/><path fill="#f7fcfd" d="M598 284L602 282L607 282L609 284L608 289L605 292L601 291.5L598.5 288Z"/><path fill="url(#hatch)" stroke-opacity="0.17" d="M593 303L595 305L597 307L599 309L601 313L600 315L597 313L595 311L593 307Z"/><path fill="#f7fcfd" d="M637 272L640 271.5L641.5 275L640 280L639 284L641 285L639 286L637 283L636.5 278Z"/><path fill="#f7fcfd" d="M643 285L647 288L650 291L652 295L654 299L653 304L651 305L649 302L647 301L645 302L644 299L647 297L647 293L644 290L642 287Z"/><path fill="#f7fcfd" d="M632 298L637 291L638 291.5L633 298.5Z"/><path fill="#ccece6" d="M582 306L587 306.5L591 311L596 316L601 319L603 322L606 326L607 330L606.5 334.5L605 335L602 332L598 328L595 323L592 318L589 314L585 310Z"/><path fill="#ccece6" d="M606.5 335.5L610 336L616 337L620 337.5L624 340L628 341L627 342L622 341.5L617 340L612 339L608 337.5Z"/><path fill="#ccece6" d="M631 343L636 341.5L639 342.5L635 344Z"/><path fill="#ccece6" d="M639 342L645 341L644 343L640 343.5Z"/><path fill="#ccece6" d="M636 345L640 346L638 347Z"/><path fill="#f7fcfd" d="M647 346L652 342L655 341.5L653 344L649 346.5Z"/><path fill="#ccece6" d="M615 316L618 317.5L622 316L627 313L630 310L633 309L635 313L636 317L634.5 318L634 322L632 325L630 329L628 330L624 329L620 329L617 327L615 322L614.5 318Z"/><path fill="url(#hatch)" stroke-opacity="0.17" d="M617 316.5L622 315L627 311L631 304L634 303L637 306L633 309L630 310L627 313L622 316Z"/><path fill="#ccece6" d="M641 318L645 317L651 316L650 318L645 319L643 322L646 323L645 325L643 326L644 330L646 334L644 334.5L641 331L640 334L638.5 333L638 328L639 324L640 320Z"/><path fill="#ccece6" d="M657 315L659 315.5L659.5 319L658 321L657 318Z"/><path fill="#ccece6" d="M653.5 329L658 327.5L664 329L658 329.3Z"/><path fill="#ccece6" d="M672 334L673 336L672 337.5Z"/><path fill="#ccece6" d="M664 322L670 321L676 324L682 325L688 327L688 343L683 343L679 339L678 334L672 330L668 327Z"/><path fill="url(#hatch)" stroke-opacity="0.17" d="M688 327L694 330L700 335L704 341L708 347L703 347L698 344L694 343L688 343Z"/><path fill="url(#hatch)" stroke-opacity="0.17" d="M704 335L712 330L716 332L710 335L706 336Z"/><path fill="url(#hatch)" stroke-opacity="0.17" d="M718 334L722 337L720 338Z"/><path fill="url(#hatch)" stroke-opacity="0.17" d="M726 340L734 347L732 348L725 342Z"/><path fill="#f7fcfd" d="M650 345.5L656 343L655 345L650 346.5Z"/><path fill="#f7fcfd" d="M615 409L617 400L618 392L617 386L619 380L620 377L626 373L628 373L638 369L642 364L648 360L654 357L657 359L660 354L666 349L671 350L676 352L674 358L678 363L683 366L685 360L687 354L689 348L691 351L693 358L695 366L700 373L702 378L705 384L706 387L706 390L705 392L702 398L698 404L692 410L686 416L680 419L674 421L670 420L666 417L665 413L664 408L662 412L660 410L658 406L654 402L648 402L642 404L636 406L630 408L624 410L617 411.4L614.4 409Z"/><path fill="#f7fcfd" d="M668 428L671 426L676 426L675 430L671 433L667.6 433.6Z"/><path fill="url(#hatch)" stroke-opacity="0.17" d="M739 410L741 413L742 417L746 418L743 422L738 426L734 428L733 425L737 421L740 416Z"/><path fill="url(#hatch)" stroke-opacity="0.17" d="M730 427L728 430L722 433L716 436L710 439L706 440L708 438L714 435L720 431L726 428Z"/><path fill="#f7fcfd" d="M734 372L738 376L737 377L733 373Z"/><path fill="#f7fcfd" d="M743.5 358.5L745 359L745 363L744 362Z"/><path fill="#f7fcfd" d="M766 366.5L769 364.5L771 363.5L773.5 363L772 364.5L769 366L766.5 367.5Z"/><path fill="#f7fcfd" d="M771.5 339L772.5 339.5L772 340.5Z"/></g><text class="lg" x="92" y="530" text-anchor="middle">No data</text><rect x="68.5" y="537.5" width="47" height="10.5" fill="url(#hatch)" stroke="#b8b8b8" stroke-width="0.6"/><line x1="92" y1="534.5" x2="92" y2="537.5" stroke="#b8b8b8" stroke-width="0.6"/><rect x="135.5" y="537.3" width="81.0" height="10.8" fill="#f7fcfd" stroke="#a8a8a8" stroke-width="0.5"/><rect x="216.5" y="537.3" width="81.0" height="10.8" fill="#e5f5f9" stroke="#a8a8a8" stroke-width="0.5"/><rect x="297.5" y="537.3" width="81.0" height="10.8" fill="#ccece6" stroke="#a8a8a8" stroke-width="0.5"/><rect x="378.5" y="537.3" width="80.5" height="10.8" fill="#99d8c9" stroke="#a8a8a8" stroke-width="0.5"/><rect x="459.0" y="537.3" width="81.0" height="10.8" fill="#66c2a4" stroke="#a8a8a8" stroke-width="0.5"/><rect x="540.0" y="537.3" width="80.5" height="10.8" fill="#41ae76" stroke="#a8a8a8" stroke-width="0.5"/><rect x="620.5" y="537.3" width="81.0" height="10.8" fill="#238b45" stroke="#a8a8a8" stroke-width="0.5"/><path d="M701.5 537.3H777L781.6 542.7L777 548.1H701.5Z" fill="#005824" stroke="none"/><line x1="135.5" y1="534" x2="135.5" y2="548" stroke="#a8a8a8" stroke-width="0.6"/><text class="lg" x="135.5" y="530" text-anchor="middle">0 t</text><line x1="216.5" y1="534" x2="216.5" y2="548" stroke="#a8a8a8" stroke-width="0.6"/><text class="lg" x="216.5" y="530" text-anchor="middle">100,000 t</text><line x1="297.5" y1="534" x2="297.5" y2="548" stroke="#a8a8a8" stroke-width="0.6"/><text class="lg" x="297.5" y="530" text-anchor="middle">300,000 t</text><line x1="378.5" y1="534" x2="378.5" y2="548" stroke="#a8a8a8" stroke-width="0.6"/><text class="lg" x="378.5" y="530" text-anchor="middle">1 million t</text><line x1="459.0" y1="534" x2="459.0" y2="548" stroke="#a8a8a8" stroke-width="0.6"/><text class="lg" x="459.0" y="530" text-anchor="middle">3 million t</text><line x1="540.0" y1="534" x2="540.0" y2="548" stroke="#a8a8a8" stroke-width="0.6"/><text class="lg" x="540.0" y="530" text-anchor="middle">10 million t</text><line x1="620.5" y1="534" x2="620.5" y2="548" stroke="#a8a8a8" stroke-width="0.6"/><text class="lg" x="620.5" y="530" text-anchor="middle">30 million t</text><line x1="701.5" y1="534" x2="701.5" y2="548" stroke="#a8a8a8" stroke-width="0.6"/><text class="lg" x="701.5" y="530" text-anchor="middle">100 million t</text></svg>
<div class="foot" style="left:16px"><b>Data source:</b> Food and Agriculture Organization of the United Nations (2025)</div>
<div class="foot" style="right:19px">OurWorldinData.org/agricultural-production | CC BY</div>
</body></html>
